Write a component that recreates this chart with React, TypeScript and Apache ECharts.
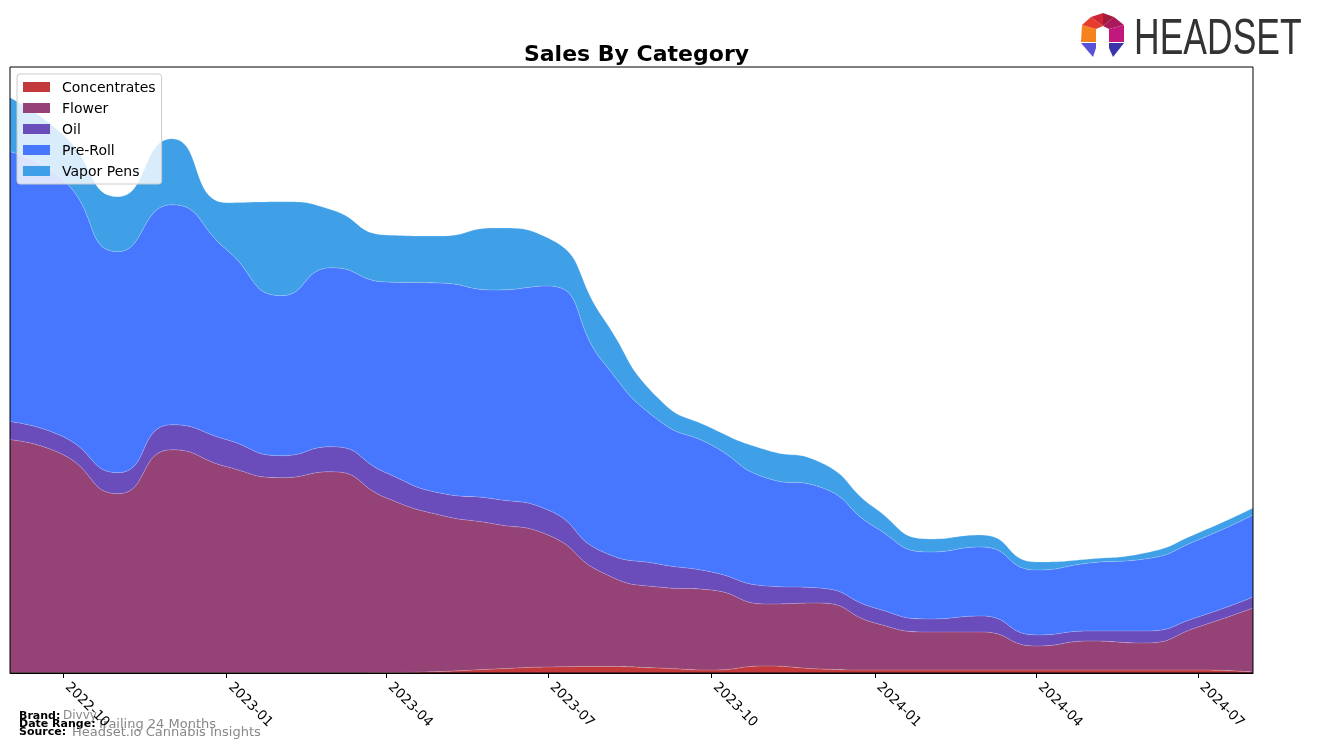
import React, { useEffect, useRef } from "react";
import * as echarts from "echarts";

const months = [
  "2022-09-01", "2022-10-01", "2022-11-01", "2022-12-01",
  "2023-01-01", "2023-02-01", "2023-03-01", "2023-04-01",
  "2023-05-01", "2023-06-01", "2023-07-01", "2023-08-01",
  "2023-09-01", "2023-10-01", "2023-11-01", "2023-12-01",
  "2024-01-01", "2024-02-01", "2024-03-01", "2024-04-01",
  "2024-05-01", "2024-06-01", "2024-07-01", "2024-08-01",
];

const concentrates = [0.3, 0.3, 0.3, 0.3, 0.3, 0.3, 0.3, 0.5, 1.5, 4, 6, 6.5, 5, 3, 7, 4, 3, 3, 3, 3, 3, 3, 3, 1];
const flower = [233, 218, 179, 223, 206, 195, 201, 174.5, 156.5, 145, 132, 93.5, 81, 80, 62, 66, 47, 38, 38, 24, 29, 27, 43, 64];
const oil = [18, 18, 21, 25, 27, 22, 25, 25, 22, 25, 25, 21, 23, 18, 18, 15, 15, 13, 16, 11, 10, 12, 10, 11];
const preRoll = [270, 257, 221, 220, 190, 160, 179, 191, 210, 209, 224, 190, 144, 127, 108, 101, 81, 67, 69, 65, 68, 72, 77, 82];
const vaporPens = [54, 45, 55, 66, 47, 94, 58, 47, 47, 62, 48, 44, 22, 17, 28, 25, 19, 13, 12, 8, 4, 6, 7, 7];

const tickDates = [
  "2022-10-01", "2023-01-01", "2023-04-01", "2023-07-01",
  "2023-10-01", "2024-01-01", "2024-04-01", "2024-07-01",
];

const seriesDefs = [
  { name: "Concentrates", data: concentrates, color: "#C3383A" },
  { name: "Flower", data: flower, color: "#954276" },
  { name: "Oil", data: oil, color: "#6A4CBA" },
  { name: "Pre-Roll", data: preRoll, color: "#4777FE" },
  { name: "Vapor Pens", data: vaporPens, color: "#3FA0E8" },
];

const ts = (s: string) => {
  const [y, m, d] = s.split("-").map(Number);
  return Date.UTC(y, m - 1, d);
};

const fmt = (v: number) => {
  const d = new Date(v + 12 * 3600000);
  const mm = String(d.getUTCMonth() + 1).padStart(2, "0");
  return `${d.getUTCFullYear()}-${mm}`;
};

// logo outline points
const O1 = [1081, 42], O2 = [1082, 25], O3 = [1091, 17], O4 = [1103, 13], O5 = [1114, 17], O6 = [1124, 25], O7 = [1124, 42];
const I1 = [1096, 42], I2 = [1096, 29], I3 = [1103, 26], I4 = [1109, 29], I5 = [1109, 42];

export default function App() {
  const ref = useRef<HTMLDivElement>(null);
  useEffect(() => {
    document.body.style.margin = "0";
    if (!ref.current) return;
    const chart = echarts.init(ref.current, null, { renderer: "svg" });
    const ticks = tickDates.map(ts);
    const xMin = ts(months[0]);
    const xMax = ts(months[months.length - 1]);
    const font = "DejaVu Sans";
    const poly = (points: number[][], fill: string) => ({ type: "polygon", shape: { points }, style: { fill } });
    chart.setOption({
      animation: false,
      textStyle: { fontFamily: font },
      title: {
        text: "Sales By Category",
        left: 631.5,
        top: 37,
        textAlign: "center",
        textStyle: { fontSize: 22, fontWeight: "bold", color: "#000", fontFamily: font },
      },
      legend: {
        orient: "vertical",
        left: 17,
        top: 74,
        icon: "rect",
        itemWidth: 27,
        itemHeight: 10,
        itemGap: 7,
        padding: [6, 6, 6, 6],
        backgroundColor: "rgba(255,255,255,0.8)",
        borderColor: "#cccccc",
        borderWidth: 1,
        borderRadius: 3,
        textStyle: { fontSize: 14, color: "#000", fontFamily: font, padding: [0, 0, 0, 7] },
        data: seriesDefs.map((s) => s.name),
      },
      grid: {
        left: 10,
        right: 64,
        top: 67,
        bottom: 74,
        show: true,
        z: 10,
        borderColor: "#000",
        borderWidth: 1,
        backgroundColor: "transparent",
        outerBoundsMode: "none",
        containLabel: false,
      },
      xAxis: [
        {
          type: "time",
          min: xMin,
          max: xMax,
          show: false,
        },
        {
          type: "value",
          min: xMin,
          max: xMax,
          position: "bottom",
          z: 10,
          axisLine: { show: true, onZero: false, lineStyle: { color: "#000", width: 1 } },
          axisTick: {
            show: true,
            customValues: ticks,
            length: 5,
            lineStyle: { color: "#000", width: 1 },
          },
          axisLabel: {
            show: true,
            customValues: ticks,
            rotate: -45,
            fontSize: 13.5,
            color: "#000",
            margin: 6,
            padding: [0, 0, 0, 7],
            fontFamily: font,
            formatter: (v: number) => fmt(v),
          },
          splitLine: { show: false },
        },
      ],
      yAxis: {
        type: "value",
        min: 0,
        max: 606,
        axisLine: { show: false },
        axisTick: { show: false },
        axisLabel: { show: false },
        splitLine: { show: false },
      },
      series: seriesDefs.map((s) => ({
        name: s.name,
        type: "line",
        xAxisIndex: 0,
        stack: "total",
        smooth: 0.55,
        symbol: "none",
        color: s.color,
        itemStyle: { color: s.color },
        lineStyle: { width: 0.6, color: "rgba(255,255,255,0.35)" },
        areaStyle: { color: s.color, opacity: 1 },
        data: months.map((m, i) => [ts(m), s.data[i]]),
      })),
      graphic: [
        poly([O1, O2, I2, I1], "#F5821F"),
        poly([O2, O3, I3, I2], "#E43D2D"),
        poly([O3, O4, I3], "#D02338"),
        poly([O4, O5, I3], "#A31A3A"),
        poly([O5, O6, I4, I3], "#A8185A"),
        poly([O6, O7, I5, I4], "#C2187C"),
        poly([[1081, 43], [1096, 43], [1096, 48], [1093, 57]], "#5A52D6"),
        poly([[1109, 43], [1124, 43], [1113, 57], [1109, 48]], "#3B33A8"),
        {
          type: "text",
          x: 1134,
          y: 37,
          scaleX: 0.71,
          style: {
            text: "HEADSET",
            font: "50px 'Liberation Sans'",
            fill: "#333333",
            verticalAlign: "middle",
            align: "left",
          },
        },
        { type: "text", x: 19, y: 715, style: { text: "Brand:", font: `bold 11px '${font}'`, fill: "#000", verticalAlign: "middle" } },
        { type: "text", x: 63, y: 715, style: { text: "Divvy", font: `12px '${font}'`, fill: "#888", verticalAlign: "middle" } },
        { type: "text", x: 19, y: 723, style: { text: "Date Range:", font: `bold 11px '${font}'`, fill: "#000", verticalAlign: "middle" } },
        { type: "text", x: 97, y: 723, style: { text: "Trailing 24 Months", font: `13px '${font}'`, fill: "#888", verticalAlign: "middle" } },
        { type: "text", x: 19, y: 731, style: { text: "Source:", font: `bold 11px '${font}'`, fill: "#000", verticalAlign: "middle" } },
        { type: "text", x: 72, y: 731, style: { text: "Headset.io Cannabis Insights", font: `13px '${font}'`, fill: "#888", verticalAlign: "middle" } },
      ],
    });
    return () => chart.dispose();
  }, []);
  return (
    <div
      ref={ref}
      style={{ position: "fixed", left: 0, top: 0, width: 1317, height: 747 }}
    />
  );
}
